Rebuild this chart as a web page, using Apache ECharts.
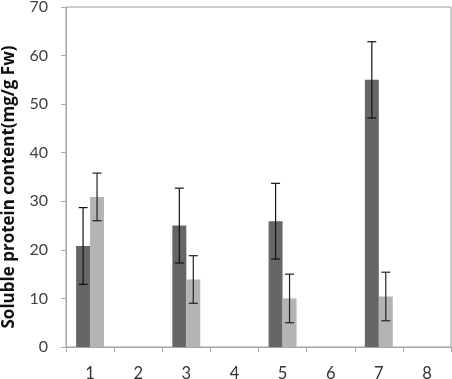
<!DOCTYPE html>
<html>
<head>
<meta charset="utf-8">
<script src="https://cdn.jsdelivr.net/npm/echarts@6/dist/echarts.min.js"></script>
<style>html,body{margin:0;padding:0;background:#fff}#c{width:452px;height:379px}</style>
</head>
<body>
<div id="c"></div>
<script>
const categories = ['1', '2', '3', '4', '5', '6', '7', '8'];
const darkValues = [20.8, null, 25.0, null, 25.9, null, 55.0, null];
const darkErrors = [7.9, null, 7.7, null, 7.8, null, 7.85, null];
const lightValues = [30.9, null, 13.9, null, 10.0, null, 10.4, null];
const lightErrors = [4.9, null, 4.9, null, 5.0, null, 5.0, null];
const yTicks = [0, 10, 20, 30, 40, 50, 60, 70];

const BAR_FRAC = 0.29;
function errSeries(vals, errs, side, color) {
  const data = [];
  vals.forEach((v, i) => { if (v != null) data.push([i, v, errs[i]]); });
  return {
    type: 'custom',
    data: data,
    z: 10,
    renderItem: function (params, api) {
      const i = api.value(0), v = api.value(1), e = api.value(2);
      const band = api.size([1, 0])[0];
      const off = side * band * BAR_FRAC / 2;
      const hi = api.coord([i, v + e]);
      const lo = api.coord([i, v - e]);
      const x = hi[0] + off;
      const cap = 4.5;
      const style = { stroke: color, lineWidth: 1.2, fill: null };
      return {
        type: 'group',
        children: [
          { type: 'line', shape: { x1: x, y1: hi[1], x2: x, y2: lo[1] }, style: style },
          { type: 'line', shape: { x1: x - cap, y1: hi[1], x2: x + cap, y2: hi[1] }, style: style },
          { type: 'line', shape: { x1: x - cap, y1: lo[1], x2: x + cap, y2: lo[1] }, style: style }
        ]
      };
    }
  };
}

const chart = echarts.init(document.getElementById('c'), null, { renderer: 'canvas' });
chart.setOption({
  animation: false,
  grid: { left: 66, right: 1, top: 7, bottom: 32, show: true, borderColor: '#9a9a9a', borderWidth: 1,
    containLabel: false, outerBoundsMode: 'none' },
  xAxis: {
    type: 'category',
    data: categories,
    axisLine: { lineStyle: { color: '#a8a8a8' } },
    axisTick: { show: true, length: 5, lineStyle: { color: '#a8a8a8' } },
    axisLabel: { color: '#333', fontFamily: 'Lato', fontSize: 16.5, margin: 18 }
  },
  yAxis: {
    type: 'value',
    min: 0, max: 70, interval: 10,
    name: 'Soluble protein content(mg/g Fw)',
    nameLocation: 'middle',
    nameGap: 48,
    nameTextStyle: { fontFamily: 'Open Sans', fontWeight: 'bold', fontSize: 17, color: '#111', padding: [0, 20, 0, 0] },
    axisLine: { show: true, lineStyle: { color: '#a8a8a8' } },
    axisTick: { show: true, length: 5, lineStyle: { color: '#a8a8a8' } },
    splitLine: { show: false },
    axisLabel: { color: '#404040', fontFamily: 'Lato', fontSize: 16, margin: 18,
      formatter: function (v) { return yTicks.indexOf(v) >= 0 ? String(v) : ''; } }
  },
  series: [
    { type: 'bar', data: darkValues, barWidth: (BAR_FRAC * 100) + '%', barGap: '0%', itemStyle: { color: '#666666' } },
    { type: 'bar', data: lightValues, barWidth: (BAR_FRAC * 100) + '%', barGap: '0%', itemStyle: { color: '#b4b4b4' } },
    errSeries(darkValues, darkErrors, -1, '#111'),
    errSeries(lightValues, lightErrors, 1, '#222')
  ]
});
</script>
</body>
</html>
